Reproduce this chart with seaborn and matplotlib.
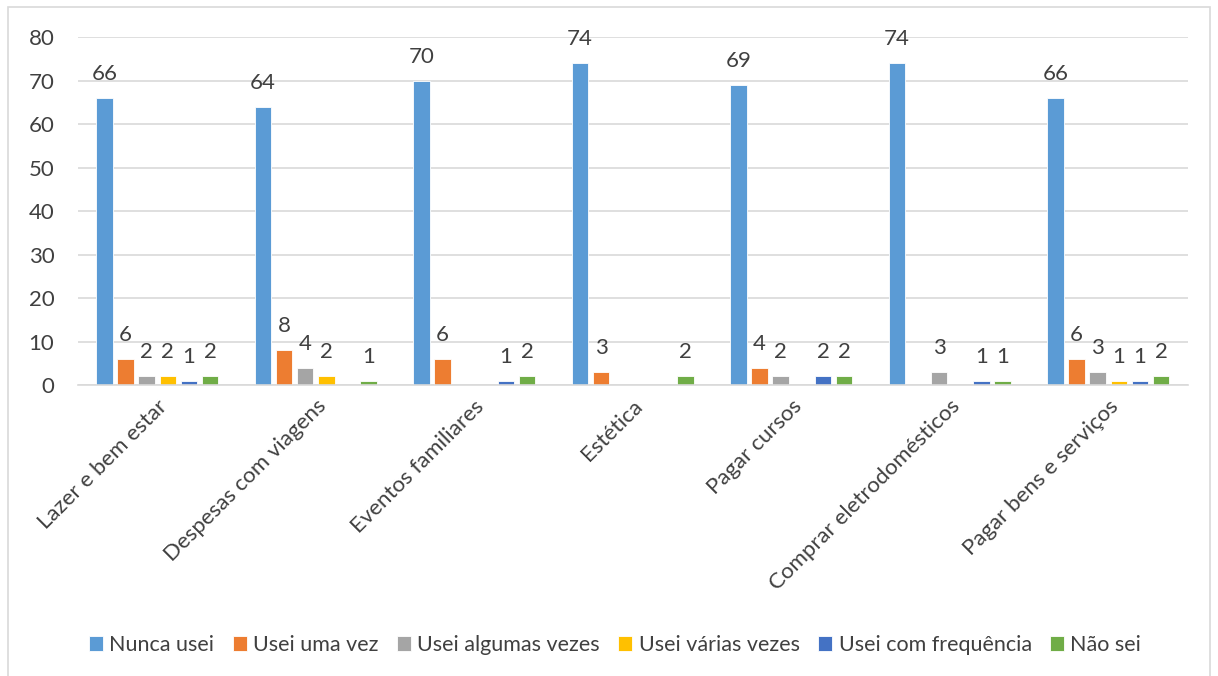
import numpy as np
import pandas as pd
import matplotlib
matplotlib.use("Agg")
import matplotlib.pyplot as plt
import seaborn as sns
from matplotlib.patches import Rectangle

categories = ["Lazer e bem estar", "Despesas com viagens", "Eventos familiares",
              "Estética", "Pagar cursos", "Comprar eletrodomésticos",
              "Pagar bens e serviços"]
series = ["Nunca usei", "Usei uma vez", "Usei algumas vezes",
          "Usei várias vezes", "Usei com frequência", "Não sei"]

nan = np.nan
nunca_usei = [66, 64, 70, 74, 69, 74, 66]
usei_uma_vez = [6, 8, 6, 3, 4, nan, 6]
usei_algumas = [2, 4, nan, nan, 2, 3, 3]
usei_varias = [2, 2, nan, nan, nan, nan, 1]
usei_frequencia = [1, nan, 1, nan, 2, 1, 1]
nao_sei = [2, 1, 2, 2, 2, 1, 2]

colors = ["#5B9BD5", "#ED7D31", "#A5A5A5", "#FFC000", "#4472C4", "#70AD47"]

values = [nunca_usei, usei_uma_vez, usei_algumas, usei_varias, usei_frequencia, nao_sei]
rows = []
for name, vals in zip(series, values):
    for cat, v in zip(categories, vals):
        rows.append({"Categoria": cat, "Resposta": name, "Valor": v})
df = pd.DataFrame(rows).dropna()

sns.set_theme(style="white")
plt.rcParams["font.family"] = ["Lato", "DejaVu Sans"]
text_color = "#404040"

fig = plt.figure(figsize=(12.18, 6.76), dpi=100)
ax = fig.add_axes([0.064, 0.4305, 0.911, 0.5145])

sns.barplot(data=df, x="Categoria", y="Valor", hue="Resposta",
            order=categories, hue_order=series, palette=colors,
            width=0.8, gap=0.22, errorbar=None, ax=ax,
            edgecolor="white", linewidth=0.6, saturation=1)

for cont in ax.containers:
    ax.bar_label(cont, fmt="%g", padding=10, fontsize=16, color=text_color)

ax.set_ylim(0, 80)
ax.set_yticks(range(0, 81, 10))
ax.set_xlim(-0.5, len(categories) - 0.5)
ax.yaxis.grid(True, color="#D9D9D9", linewidth=1.2)
ax.xaxis.grid(False)
ax.set_axisbelow(True)
for s in ["top", "right", "left"]:
    ax.spines[s].set_visible(False)
ax.spines["bottom"].set_color("#D9D9D9")
ax.spines["bottom"].set_linewidth(1.2)
ax.tick_params(axis="y", length=0, pad=17, labelsize=16, labelcolor=text_color)
ax.tick_params(axis="x", length=0, pad=8, labelsize=16, labelcolor=text_color)
ax.set_xlabel("")
ax.set_ylabel("")
for lbl in ax.get_xticklabels():
    lbl.set_rotation(45)
    lbl.set_ha("right")
    lbl.set_rotation_mode("anchor")

sns.move_legend(ax, "center", bbox_to_anchor=(0.505, 0.046),
                bbox_transform=fig.transFigure, ncol=6, frameon=False,
                title=None, fontsize=15.5, handlelength=0.65, handleheight=0.65,
                handletextpad=0.3, columnspacing=0.85, labelcolor=text_color)

fig.patches.append(Rectangle((8 / 1218, -0.01), 1202 / 1218, 1 - 7 / 676 + 0.01,
                             transform=fig.transFigure, fill=False,
                             edgecolor="#D9D9D9", linewidth=1.2))

fig.savefig("out.png", dpi=100)
